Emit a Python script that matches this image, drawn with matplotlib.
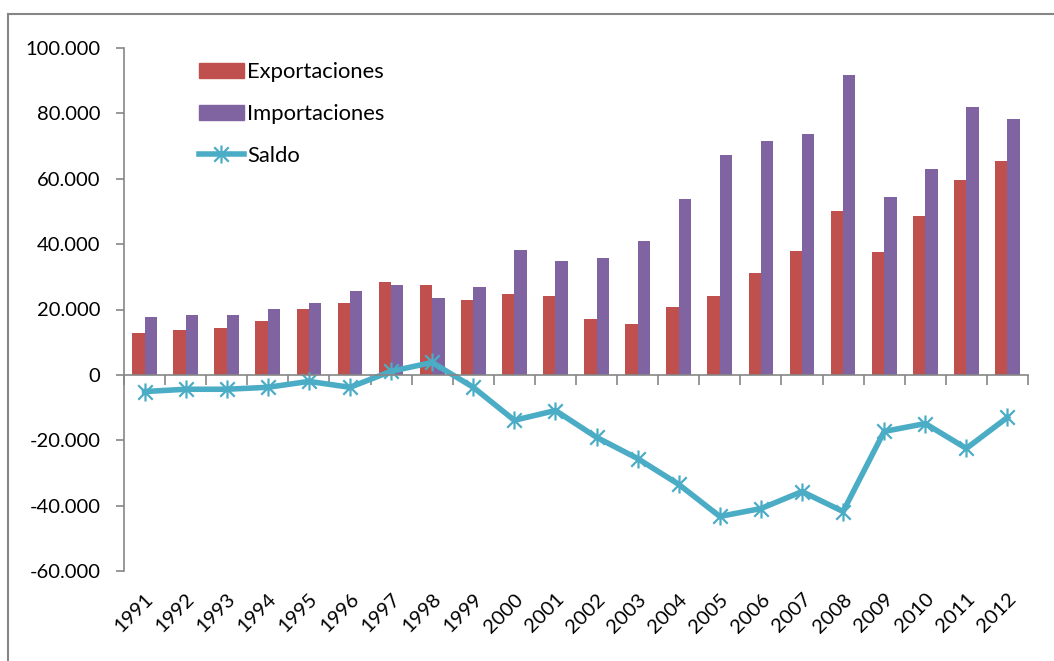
import matplotlib
matplotlib.use("Agg")
import matplotlib.pyplot as plt
import matplotlib.patches as mpatches
from matplotlib.lines import Line2D
from matplotlib.path import Path
from matplotlib.ticker import FuncFormatter
import numpy as np

years = [str(y) for y in range(1991, 2013)]
exportaciones = [12.9, 13.8, 14.3, 16.6, 20.3, 21.9, 28.4, 27.4, 23.0, 24.7, 24.1,
                 17.0, 15.5, 20.9, 24.1, 31.1, 37.8, 50.1, 37.5, 48.5, 59.6, 65.4]
importaciones = [17.6, 18.2, 18.2, 20.3, 21.9, 25.8, 27.4, 23.5, 26.8, 38.1, 34.8,
                 35.7, 40.9, 53.9, 67.3, 71.5, 73.7, 91.7, 54.4, 62.9, 81.9, 78.2]
saldo = [-5.1, -4.4, -4.4, -3.8, -2.0, -3.8, 1.1, 3.8, -3.8, -13.9, -10.9,
         -19.1, -25.6, -33.5, -43.3, -40.9, -35.7, -41.8, -17.3, -14.9, -22.5, -13.0]

exportaciones = np.array(exportaciones) * 1000
importaciones = np.array(importaciones) * 1000
saldo = np.array(saldo) * 1000

RED = "#C0504D"
PURPLE = "#8064A2"
TEAL = "#4BACC6"
GREY = "#868686"

plt.rcParams["font.family"] = ["Lato", "DejaVu Sans"]
plt.rcParams["font.size"] = 14.5

fig = plt.figure(figsize=(10.54, 6.61), dpi=100)
ax = fig.add_axes([124 / 1054, 1 - 571 / 661, (1028 - 124) / 1054, (571 - 48) / 661])

x = np.arange(len(years))
w = 0.3
ax.bar(x - w / 2, exportaciones, w, color=RED, label="Exportaciones")
ax.bar(x + w / 2, importaciones, w, color=PURPLE, label="Importaciones")

# asterisk marker: X plus vertical bar
star = Path([(-1, -1), (1, 1), (-1, 1), (1, -1), (0, -1.25), (0, 1.25)],
            [Path.MOVETO, Path.LINETO, Path.MOVETO, Path.LINETO, Path.MOVETO, Path.LINETO])
ax.plot(x, saldo, color=TEAL, lw=4.0, marker=star, markersize=13,
        markeredgewidth=1.6, markeredgecolor=TEAL, label="Saldo", solid_joinstyle="miter")

ax.set_xlim(-0.5, len(years) - 0.5)
ax.set_ylim(-60000, 100000)
ax.set_yticks(np.arange(-60000, 100001, 20000))
ax.yaxis.set_major_formatter(FuncFormatter(lambda v, p: f"{int(v):,}".replace(",", ".")))
ax.tick_params(axis="y", length=6, width=1.2, color=GREY, pad=11)

for s in ["top", "right"]:
    ax.spines[s].set_visible(False)
ax.spines["left"].set_color(GREY)
ax.spines["left"].set_linewidth(1.2)
ax.spines["bottom"].set_position(("data", 0))
ax.spines["bottom"].set_color(GREY)
ax.spines["bottom"].set_linewidth(1.2)

ax.set_xticks(np.arange(-0.5, len(years), 1.0))
ax.set_xticklabels([])
ax.tick_params(axis="x", length=7, width=1.2, color=GREY, direction="out")

sec = ax.secondary_xaxis("bottom")
sec.set_xticks(x)
sec.set_xticklabels(years, rotation=45, ha="right", rotation_mode="anchor")
sec.tick_params(length=0, pad=14)
sec.spines["bottom"].set_visible(False)

handles = [
    mpatches.Patch(color=RED, label="Exportaciones"),
    mpatches.Patch(color=PURPLE, label="Importaciones"),
    Line2D([], [], color=TEAL, lw=4.0, marker=star, markersize=13,
           markeredgewidth=1.6, label="Saldo"),
]
fig.legend(handles=handles, loc="upper left", bbox_to_anchor=(199 / 1054, 1 - 62 / 661),
           frameon=False, borderpad=0, fontsize=15.8, handlelength=2.05, handleheight=0.65,
           handletextpad=0.15, labelspacing=1.0, borderaxespad=0)

# outer chart frame (only top and left edges visible)
fig.add_artist(Line2D([8 / 1054, 1], [1 - 14 / 661] * 2, color=GREY, lw=1.5))
fig.add_artist(Line2D([8 / 1054] * 2, [0, 1 - 14 / 661], color=GREY, lw=1.5))

fig.savefig("out.png", dpi=100)
